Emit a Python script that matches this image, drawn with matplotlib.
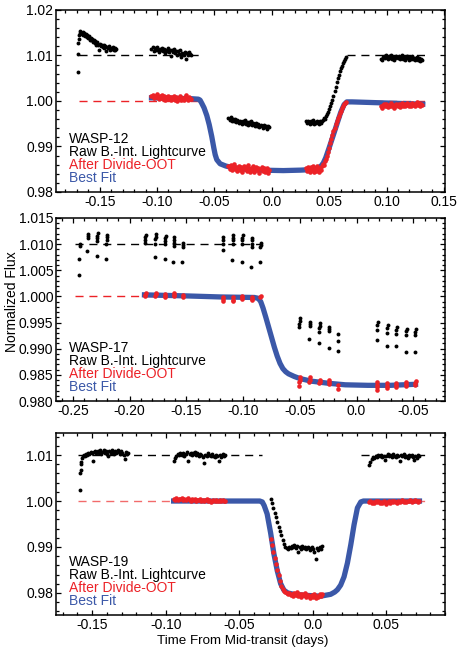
import matplotlib
matplotlib.use('Agg')
import matplotlib.pyplot as plt
from matplotlib.ticker import MultipleLocator, FixedLocator, FixedFormatter

plt.rcParams['font.family'] = ['Liberation Sans', 'DejaVu Sans']
plt.rcParams['font.size'] = 10

BLACK = '#000000'
RED = '#ec2227'
BLUE = '#3b58a8'

# ---------------- WASP-12 ----------------
p1_raw_label = 'WASP-12'

# first orbit: raw only
p1_tA = [-0.1690, -0.1688, -0.1686, -0.1683, -0.1679, -0.1674, -0.1668, -0.1662, -0.1656, -0.1649,
         -0.1642, -0.1635, -0.1628, -0.1621, -0.1614, -0.1607, -0.1600, -0.1593, -0.1586, -0.1579,
         -0.1572, -0.1565, -0.1558, -0.1551, -0.1544, -0.1537, -0.1530, -0.1522, -0.1514, -0.1506,
         -0.1498, -0.1490, -0.1482, -0.1474, -0.1466, -0.1458, -0.1450, -0.1442, -0.1434, -0.1426,
         -0.1418, -0.1410, -0.1402, -0.1394, -0.1386, -0.1378, -0.1370, -0.1362, -0.1356]
p1_rawA = [1.0064, 1.0104, 1.0128, 1.0136, 1.0145, 1.0150, 1.0153, 1.0150, 1.0148, 1.0151,
           1.0146, 1.0149, 1.0143, 1.0147, 1.0140, 1.0144, 1.0138, 1.0142, 1.0135, 1.0139,
           1.0133, 1.0137, 1.0129, 1.0134, 1.0128, 1.0131, 1.0124, 1.0129, 1.0122, 1.0112,
           1.0126, 1.0120, 1.0124, 1.0118, 1.0122, 1.0116, 1.0120, 1.0110, 1.0119, 1.0117,
           1.0121, 1.0113, 1.0117, 1.0115, 1.0118, 1.0112, 1.0116, 1.0113, 1.0114]

p1_tB = [-0.1048, -0.1039, -0.1030, -0.1021, -0.1012, -0.1003, -0.0994, -0.0985, -0.0976, -0.0967,
         -0.0958, -0.0949, -0.0940, -0.0931, -0.0922, -0.0913, -0.0904, -0.0895, -0.0886, -0.0877,
         -0.0868, -0.0859, -0.0850, -0.0841, -0.0832, -0.0823, -0.0814, -0.0805, -0.0796, -0.0787,
         -0.0778, -0.0769, -0.0760, -0.0751, -0.0742, -0.0733, -0.0724, -0.0715, -0.0706]
p1_rawB = [1.0114, 1.0118, 1.0110, 1.0116, 1.0112, 1.0119, 1.0113, 1.0108, 1.0115, 1.0111,
           1.0117, 1.0109, 1.0114, 1.0106, 1.0113, 1.0110, 1.0116, 1.0108, 1.0112, 1.0099,
           1.0111, 1.0107, 1.0114, 1.0105, 1.0110, 1.0102, 1.0109, 1.0104, 1.0111, 1.0096,
           1.0106, 1.0101, 1.0108, 1.0092, 1.0105, 1.0100, 1.0107, 1.0103, 1.0101]
p1_divB = [1.0010, 1.0014, 1.0006, 1.0012, 1.0008, 1.0015, 1.0009, 1.0004, 1.0011, 1.0007,
           1.0013, 1.0005, 1.0010, 1.0003, 1.0009, 1.0006, 1.0012, 1.0004, 1.0008, 1.0002,
           1.0009, 1.0005, 1.0011, 1.0003, 1.0008, 1.0001, 1.0007, 1.0004, 1.0010, 1.0002,
           1.0006, 1.0003, 1.0009, 1.0014, 1.0007, 1.0002, 1.0008, 1.0005, 1.0004]

p1_tC = [-0.0377, -0.0368, -0.0359, -0.0350, -0.0341, -0.0332, -0.0323, -0.0314, -0.0305, -0.0296,
         -0.0287, -0.0278, -0.0269, -0.0260, -0.0251, -0.0242, -0.0233, -0.0224, -0.0215, -0.0206,
         -0.0197, -0.0188, -0.0179, -0.0170, -0.0161, -0.0152, -0.0143, -0.0134, -0.0125, -0.0116,
         -0.0107, -0.0098, -0.0089, -0.0080, -0.0071, -0.0062, -0.0053, -0.0044, -0.0035, -0.0026]
p1_rawC = [0.9962, 0.9958, 0.9964, 0.9957, 0.9961, 0.9955, 0.9960, 0.9953, 0.9958, 0.9956,
           0.9951, 0.9957, 0.9954, 0.9949, 0.9955, 0.9952, 0.9958, 0.9950, 0.9954, 0.9948,
           0.9953, 0.9950, 0.9955, 0.9947, 0.9952, 0.9949, 0.9944, 0.9951, 0.9946, 0.9950,
           0.9943, 0.9948, 0.9945, 0.9940, 0.9947, 0.9943, 0.9946, 0.9939, 0.9944, 0.9942]
p1_divC = [0.9856, 0.9851, 0.9859, 0.9848, 0.9854, 0.9861, 0.9850, 0.9855, 0.9846, 0.9853,
           0.9858, 0.9849, 0.9855, 0.9844, 0.9852, 0.9857, 0.9850, 0.9854, 0.9847, 0.9860,
           0.9851, 0.9845, 0.9853, 0.9849, 0.9856, 0.9843, 0.9851, 0.9854, 0.9848, 0.9852,
           0.9841, 0.9850, 0.9855, 0.9846, 0.9852, 0.9844, 0.9849, 0.9853, 0.9842, 0.9848]

p1_tD = [0.0295, 0.0304, 0.0313, 0.0322, 0.0331, 0.0340, 0.0349, 0.0358, 0.0367, 0.0376,
         0.0385, 0.0394, 0.0403, 0.0412, 0.0421, 0.0430, 0.0439, 0.0448, 0.0457, 0.0466,
         0.0475, 0.0484, 0.0493, 0.0502, 0.0511, 0.0520, 0.0529, 0.0538, 0.0547, 0.0556,
         0.0565, 0.0574, 0.0583, 0.0592, 0.0601, 0.0610, 0.0619, 0.0628, 0.0637, 0.0646]
p1_rawD = [0.9955, 0.9951, 0.9957, 0.9953, 0.9949, 0.9956, 0.9952, 0.9958, 0.9950, 0.9954,
           0.9951, 0.9957, 0.9953, 0.9949, 0.9955, 0.9952, 0.9956, 0.9958, 0.9962, 0.9960,
           0.9967, 0.9971, 0.9976, 0.9982, 0.9989, 0.9995, 1.0003, 1.0012, 1.0021, 1.0031,
           1.0041, 1.0050, 1.0058, 1.0066, 1.0072, 1.0077, 1.0083, 1.0087, 1.0092, 1.0096]
p1_divD = [0.9852, 0.9846, 0.9855, 0.9849, 0.9843, 0.9854, 0.9848, 0.9857, 0.9845, 0.9851,
           0.9847, 0.9856, 0.9850, 0.9844, 0.9853, 0.9849, 0.9858, 0.9862, 0.9860, 0.9868,
           0.9872, 0.9880, 0.9888, 0.9897, 0.9908, 0.9916, 0.9925, 0.9933, 0.9940, 0.9949,
           0.9955, 0.9962, 0.9968, 0.9974, 0.9979, 0.9984, 0.9989, 0.9993, 0.9996, 0.9998]

p1_tE = [0.0952, 0.0961, 0.0970, 0.0979, 0.0988, 0.0997, 0.1006, 0.1015, 0.1024, 0.1033,
         0.1042, 0.1051, 0.1060, 0.1069, 0.1078, 0.1087, 0.1096, 0.1105, 0.1114, 0.1123,
         0.1132, 0.1141, 0.1150, 0.1159, 0.1168, 0.1177, 0.1186, 0.1195, 0.1204, 0.1213,
         0.1222, 0.1231, 0.1240, 0.1249, 0.1258, 0.1267, 0.1276, 0.1285, 0.1294, 0.1303, 0.1312]
p1_rawE = [1.0093, 1.0090, 1.0097, 1.0099, 1.0094, 1.0100, 1.0096, 1.0092, 1.0098, 1.0095,
           1.0101, 1.0093, 1.0097, 1.0089, 1.0095, 1.0099, 1.0094, 1.0098, 1.0092, 1.0096,
           1.0100, 1.0093, 1.0097, 1.0091, 1.0095, 1.0099, 1.0094, 1.0090, 1.0096, 1.0093,
           1.0098, 1.0092, 1.0095, 1.0089, 1.0094, 1.0097, 1.0091, 1.0095, 1.0088, 1.0093, 1.0091]
p1_divE = [0.9988, 0.9985, 0.9991, 0.9994, 0.9989, 0.9993, 0.9990, 0.9986, 0.9992, 0.9989,
           0.9995, 0.9988, 0.9991, 0.9985, 0.9990, 0.9994, 0.9989, 0.9993, 0.9987, 0.9991,
           0.9995, 0.9989, 0.9993, 0.9988, 0.9992, 0.9996, 0.9991, 0.9988, 0.9994, 0.9990,
           0.9996, 0.9991, 0.9994, 0.9989, 0.9993, 0.9997, 0.9992, 0.9995, 0.9990, 0.9994, 0.9992]

p1_fit_t = [-0.1048, -0.0700, -0.0640, -0.0625, -0.0610, -0.0590, -0.0566, -0.0545, -0.0523, -0.0505,
            -0.0493, -0.0479, -0.0450, -0.0400, -0.0333, -0.0200, -0.0099, 0.0100, 0.0251, 0.0330,
            0.0397, 0.0430, 0.0450, 0.0470, 0.0500, 0.0543, 0.0575, 0.0601, 0.0630, 0.0654,
            0.0700, 0.1316]
p1_fit_f = [1.0007, 1.0005, 1.0004, 1.0002, 0.9995, 0.9985, 0.9968, 0.9948, 0.9922, 0.9897,
            0.9882, 0.9871, 0.9862, 0.9857, 0.9853, 0.9849, 0.9848, 0.9847, 0.9848, 0.9849,
            0.9852, 0.9857, 0.9864, 0.9875, 0.9897, 0.9930, 0.9955, 0.9975, 0.9992, 0.9998,
            0.9998, 0.9993]

p1_raw_dash = [(-0.168, -0.0625), (0.0654, 0.136)]
p1_div_dash = [(-0.168, -0.0625), (0.0654, 0.136)]

# ---------------- WASP-17 ----------------
p2_raw_t = [-0.2440, -0.2442, -0.2444, -0.2446,
            -0.2366, -0.2368, -0.2371, -0.2374,
            -0.2283, -0.2285, -0.2287, -0.2289, -0.2292,
            -0.2199, -0.2201, -0.2203, -0.2205, -0.2207,
            -0.1860, -0.1862, -0.1864, -0.1866,
            -0.1769, -0.1771, -0.1773, -0.1775, -0.1777,
            -0.1684, -0.1686, -0.1688, -0.1690, -0.1692,
            -0.1608, -0.1610, -0.1612, -0.1614, -0.1616,
            -0.1530, -0.1532, -0.1534, -0.1536,
            -0.1175, -0.1177, -0.1179, -0.1181,
            -0.1087, -0.1089, -0.1091, -0.1093, -0.1095,
            -0.1005, -0.1007, -0.1009, -0.1011, -0.1013,
            -0.0920, -0.0922, -0.0924, -0.0926, -0.0928,
            -0.0845, -0.0847, -0.0849, -0.0851,
            -0.0500, -0.0502, -0.0504, -0.0506,
            -0.0411, -0.0413, -0.0415, -0.0417,
            -0.0323, -0.0325, -0.0327, -0.0329, -0.0331,
            -0.0241, -0.0243, -0.0245, -0.0247,
            -0.0162, -0.0164, -0.0166,
            0.0185, 0.0183, 0.0181, 0.0179,
            0.0273, 0.0271, 0.0269, 0.0267,
            0.0353, 0.0351, 0.0349, 0.0347,
            0.0441, 0.0439, 0.0437, 0.0435,
            0.0521, 0.0519, 0.0517, 0.0515]
p2_raw_f = [1.0100, 1.0096, 1.0071, 1.0041,
            1.0120, 1.0116, 1.0111, 1.0087,
            1.0121, 1.0116, 1.0111, 1.0106, 1.0077,
            1.0118, 1.0113, 1.0108, 1.0100, 1.0072,
            1.0118, 1.0113, 1.0108, 1.0103,
            1.0119, 1.0114, 1.0109, 1.0101, 1.0076,
            1.0116, 1.0111, 1.0106, 1.0100, 1.0071,
            1.0113, 1.0108, 1.0103, 1.0097, 1.0066,
            1.0103, 1.0099, 1.0094, 1.0065,
            1.0113, 1.0108, 1.0100, 1.0089,
            1.0117, 1.0112, 1.0107, 1.0101, 1.0069,
            1.0117, 1.0112, 1.0107, 1.0100, 1.0066,
            1.0112, 1.0107, 1.0101, 1.0095, 1.0056,
            1.0103, 1.0099, 1.0095, 1.0065,
            0.9958, 0.9953, 0.9947, 0.9941,
            0.9952, 0.9948, 0.9943, 0.9919,
            0.9949, 0.9944, 0.9939, 0.9932, 0.9910,
            0.9942, 0.9938, 0.9933, 0.9901,
            0.9929, 0.9915, 0.9896,
            0.9952, 0.9945, 0.9936, 0.9917,
            0.9946, 0.9939, 0.9930, 0.9905,
            0.9942, 0.9936, 0.9928, 0.9905,
            0.9938, 0.9933, 0.9927, 0.9894,
            0.9937, 0.9932, 0.9927, 0.9893]

p2_div_t = [-0.1861, -0.1863, -0.1865,
            -0.1770, -0.1772, -0.1774,
            -0.1685, -0.1687, -0.1689,
            -0.1609, -0.1611, -0.1613,
            -0.1531, -0.1533,
            -0.1176, -0.1178, -0.1180,
            -0.1088, -0.1090, -0.1092,
            -0.1006, -0.1008, -0.1010,
            -0.0921, -0.0923, -0.0925,
            -0.0846, -0.0848,
            -0.0501, -0.0503, -0.0505, -0.0507,
            -0.0412, -0.0414, -0.0416,
            -0.0324, -0.0326, -0.0328,
            -0.0242, -0.0244, -0.0246,
            -0.0163, -0.0165,
            0.0184, 0.0182, 0.0180, 0.0178,
            0.0272, 0.0270, 0.0268,
            0.0352, 0.0350, 0.0348,
            0.0440, 0.0438, 0.0436,
            0.0520, 0.0518, 0.0516]
p2_div_f = [1.0006, 1.0003, 1.0000,
            1.0007, 1.0004, 1.0001,
            1.0004, 1.0001, 0.9998,
            1.0006, 1.0003, 1.0000,
            1.0002, 0.9999,
            0.9999, 0.9995, 0.9992,
            0.9998, 0.9994, 0.9991,
            1.0001, 0.9998, 0.9995,
            0.9998, 0.9995, 0.9993,
            1.0001, 0.9999,
            0.9846, 0.9841, 0.9836, 0.9828,
            0.9846, 0.9841, 0.9836,
            0.9841, 0.9837, 0.9834,
            0.9841, 0.9837, 0.9832,
            0.9831, 0.9823,
            0.9836, 0.9831, 0.9826, 0.9822,
            0.9834, 0.9829, 0.9825,
            0.9834, 0.9830, 0.9827,
            0.9836, 0.9832, 0.9829,
            0.9839, 0.9834, 0.9831]

p2_fit_t = [-0.1870, -0.1500, -0.1200, -0.0900, -0.0865, -0.0845, -0.0825, -0.0800, -0.0775, -0.0750,
            -0.0725, -0.0700, -0.0675, -0.0650, -0.0625, -0.0600, -0.0550, -0.0500, -0.0400, -0.0250,
            -0.0100, 0.0100, 0.0300, 0.0520]
p2_fit_f = [1.0003, 1.0001, 0.9999, 0.9998, 0.9996, 0.9990, 0.9978, 0.9960, 0.9941, 0.9922,
            0.9903, 0.9886, 0.9872, 0.9862, 0.9856, 0.9852, 0.9847, 0.9843, 0.9838, 0.9834,
            0.9831, 0.9830, 0.9830, 0.9832]

p2_raw_dash = [(-0.2487, -0.0836)]
p2_div_dash = [(-0.2487, -0.0836)]

# ---------------- WASP-19 ----------------
p3_tA = [-0.1583, -0.1581, -0.1579, -0.1576, -0.1573, -0.1569, -0.1564, -0.1558,
         -0.1551, -0.1543, -0.1535, -0.1527, -0.1519, -0.1511, -0.1503, -0.1495, -0.1487, -0.1479,
         -0.1471, -0.1463, -0.1455, -0.1447, -0.1439, -0.1431, -0.1423, -0.1415, -0.1407, -0.1399,
         -0.1391, -0.1383, -0.1375, -0.1367, -0.1359, -0.1351, -0.1343, -0.1335, -0.1327, -0.1319,
         -0.1311, -0.1303, -0.1295, -0.1287, -0.1279, -0.1271, -0.1263, -0.1255]
p3_rawA = [1.0023, 1.0060, 1.0067, 1.0081, 1.0086, 1.0093, 1.0098, 1.0101,
           1.0099, 1.0103, 1.0100, 1.0105, 1.0102, 1.0107, 1.0104, 1.0088, 1.0106, 1.0109,
           1.0104, 1.0108, 1.0105, 1.0110, 1.0103, 1.0107, 1.0111, 1.0105, 1.0109, 1.0103,
           1.0097, 1.0108, 1.0104, 1.0110, 1.0106, 1.0102, 1.0109, 1.0105, 1.0111, 1.0106,
           1.0103, 1.0108, 1.0104, 1.0100, 1.0091, 1.0106, 1.0102, 1.0105]

p3_tB = [-0.0946, -0.0937, -0.0928, -0.0919, -0.0910, -0.0901, -0.0892, -0.0883, -0.0874, -0.0865,
         -0.0856, -0.0847, -0.0838, -0.0829, -0.0820, -0.0811, -0.0802, -0.0793, -0.0784, -0.0775,
         -0.0766, -0.0757, -0.0748, -0.0739, -0.0730, -0.0721, -0.0712, -0.0703, -0.0694, -0.0685,
         -0.0676, -0.0667, -0.0658, -0.0649, -0.0640, -0.0631, -0.0622, -0.0613, -0.0604, -0.0595]
p3_rawB = [1.0088, 1.0094, 1.0099, 1.0103, 1.0100, 1.0105, 1.0101, 1.0104, 1.0099, 1.0103,
           1.0106, 1.0088, 1.0102, 1.0105, 1.0100, 1.0104, 1.0107, 1.0101, 1.0105, 1.0099,
           1.0103, 1.0100, 1.0096, 1.0083, 1.0101, 1.0098, 1.0104, 1.0100, 1.0097, 1.0102,
           1.0099, 1.0095, 1.0101, 1.0097, 1.0087, 1.0100, 1.0096, 1.0102, 1.0098, 1.0101]
p3_divB = [1.0005, 1.0003, 1.0006, 1.0002, 1.0005, 1.0004, 1.0007, 1.0003, 1.0005, 1.0002,
           1.0004, 1.0006, 1.0003, 1.0001, 1.0005, 1.0003, 1.0004, 1.0001, 1.0003, 1.0002,
           1.0005, 1.0001, 1.0003, 0.9999, 1.0002, 1.0004, 1.0000, 1.0002, 0.9998, 1.0001,
           1.0003, 1.0000, 1.0002, 0.9999, 1.0001, 1.0003, 1.0000, 1.0002, 0.9999, 1.0001]

p3_tC = [-0.0286, -0.0277, -0.0268, -0.0259, -0.0250, -0.0241, -0.0232, -0.0223, -0.0214, -0.0205,
         -0.0196, -0.0187, -0.0178, -0.0169, -0.0160, -0.0151, -0.0142, -0.0133, -0.0124, -0.0115,
         -0.0106, -0.0097, -0.0088, -0.0079, -0.0070, -0.0061, -0.0052, -0.0043, -0.0034, -0.0025,
         -0.0016, -0.0007, 0.0002, 0.0011, 0.0020, 0.0029, 0.0038, 0.0047, 0.0056, 0.0065]
p3_rawC = [1.0005, 0.9996, 0.9985, 0.9975, 0.9966, 0.9954, 0.9944, 0.9934, 0.9925, 0.9915,
           0.9907, 0.9901, 0.9898, 0.9895, 0.9901, 0.9897, 0.9903, 0.9899, 0.9904, 0.9898,
           0.9902, 0.9888, 0.9900, 0.9896, 0.9903, 0.9898, 0.9901, 0.9895, 0.9900, 0.9897,
           0.9893, 0.9899, 0.9896, 0.9890, 0.9874, 0.9898, 0.9894, 0.9900, 0.9896, 0.9902]
p3_divC = [0.9918, 0.9904, 0.9890, 0.9876, 0.9862, 0.9850, 0.9838, 0.9826, 0.9816, 0.9809,
           0.9804, 0.9801, 0.9799, 0.9797, 0.9800, 0.9795, 0.9798, 0.9793, 0.9799, 0.9796,
           0.9801, 0.9794, 0.9797, 0.9792, 0.9798, 0.9795, 0.9799, 0.9791, 0.9796, 0.9793,
           0.9788, 0.9795, 0.9792, 0.9797, 0.9790, 0.9794, 0.9791, 0.9797, 0.9793, 0.9798]

p3_tD = [0.0384, 0.0393, 0.0402, 0.0411, 0.0420, 0.0429, 0.0438, 0.0447, 0.0456, 0.0465,
         0.0474, 0.0483, 0.0492, 0.0501, 0.0510, 0.0519, 0.0528, 0.0537, 0.0546, 0.0555,
         0.0564, 0.0573, 0.0582, 0.0591, 0.0600, 0.0609, 0.0618, 0.0627, 0.0636, 0.0645,
         0.0654, 0.0663, 0.0672, 0.0681, 0.0690, 0.0699, 0.0708, 0.0717, 0.0726]
p3_rawD = [1.0078, 1.0084, 1.0091, 1.0095, 1.0093, 1.0098, 1.0096, 1.0100, 1.0097, 1.0101,
           1.0095, 1.0099, 1.0089, 1.0098, 1.0102, 1.0097, 1.0100, 1.0096, 1.0103, 1.0099,
           1.0095, 1.0101, 1.0098, 1.0088, 1.0100, 1.0097, 1.0102, 1.0096, 1.0099, 1.0094,
           1.0101, 1.0097, 1.0100, 1.0095, 1.0090, 1.0098, 1.0094, 1.0100, 1.0097]
p3_divD = [0.9997, 0.9999, 0.9996, 0.9998, 0.9995, 0.9999, 0.9997, 1.0000, 0.9996, 0.9998,
           0.9995, 0.9999, 0.9997, 0.9994, 0.9998, 1.0000, 0.9996, 0.9999, 0.9997, 1.0001,
           0.9998, 0.9996, 1.0000, 0.9997, 0.9999, 1.0002, 0.9998, 1.0000, 0.9997, 1.0001,
           0.9999, 1.0002, 0.9998, 1.0001, 0.9999, 1.0003, 1.0000, 0.9998, 1.0001]

p3_fit_t = [-0.0946, -0.0500, -0.0360, -0.0343, -0.0330, -0.0310, -0.0286, -0.0264, -0.0241, -0.0218,
            -0.0196, -0.0170, -0.0130, -0.0060, 0.0054, 0.0122, 0.0150, 0.0168, 0.0190, 0.0213,
            0.0236, 0.0259, 0.0281, 0.0304, 0.0327, 0.0345, 0.0500, 0.0726]
p3_fit_f = [1.0000, 1.0000, 1.0000, 0.9998, 0.9990, 0.9972, 0.9930, 0.9885, 0.9848, 0.9820,
            0.9806, 0.9800, 0.9797, 0.9795, 0.9793, 0.9797, 0.9802, 0.9807, 0.9817, 0.9835,
            0.9865, 0.9905, 0.9948, 0.9985, 0.9998, 1.0000, 1.0000, 1.0000]

p3_raw_dash = [(-0.1596, -0.0343), (0.0327, 0.0782)]
p3_div_dash = [(-0.1596, -0.0343), (0.0327, 0.0782)]

# tick labels (as printed on the original)
p1_xticks = [-0.15, -0.10, -0.05, 0.0, 0.05, 0.10, 0.15]
p1_xlabels = ['-0.15', '-0.10', '-0.05', '0.0', '0.05', '0.10', '0.15']
p1_yticks = [0.98, 0.99, 1.00, 1.01, 1.02]
p1_ylabels = ['0.98', '0.99', '1.00', '1.01', '1.02']
p2_xticks = [-0.25, -0.20, -0.15, -0.10, -0.05, 0.0, 0.05]
p2_xlabels = ['-0.25', '-0.20', '-0.15', '-0.10', '-0.05', '0.0', '-0.05']
p2_yticks = [0.980, 0.985, 0.990, 0.995, 1.000, 1.005, 1.010, 1.015]
p2_ylabels = ['0.980', '0.985', '0.990', '0.995', '1.000', '1.005', '1.010', '1.015']
p3_xticks = [-0.15, -0.10, -0.05, 0.0, 0.05]
p3_xlabels = ['-0.15', '-0.10', '-0.05', '0.0', '0.05']
p3_yticks = [0.98, 0.99, 1.00, 1.01]
p3_ylabels = ['0.98', '0.99', '1.00', '1.01']


def style_axes(ax, xlim, ylim, xticks, xlabels, yticks, ylabels, xminor, yminor):
    ax.set_xlim(*xlim)
    ax.set_ylim(*ylim)
    ax.xaxis.set_major_locator(FixedLocator(xticks))
    ax.xaxis.set_major_formatter(FixedFormatter(xlabels))
    ax.yaxis.set_major_locator(FixedLocator(yticks))
    ax.yaxis.set_major_formatter(FixedFormatter(ylabels))
    ax.xaxis.set_minor_locator(MultipleLocator(xminor))
    ax.yaxis.set_minor_locator(MultipleLocator(yminor))
    ax.tick_params(which='both', direction='in', top=True, right=True, width=0.9,
                   labelsize=10, pad=2.0)
    ax.tick_params(which='major', length=3.8)
    ax.tick_params(which='minor', length=2.0)
    for s in ax.spines.values():
        s.set_linewidth(1.1)


def add_key(ax, name):
    rows = [name, 'Raw B.-Int. Lightcurve', 'After Divide-OOT', 'Best Fit']
    cols = [BLACK, BLACK, RED, BLUE]
    ys = [0.292, 0.220, 0.147, 0.075]
    for y, s, c in zip(ys, rows, cols):
        ax.text(0.033, y, s, color=c, transform=ax.transAxes, ha='left', va='center', fontsize=10)


def dashes(ax, spans, level, color):
    for x0, x1 in spans:
        ax.plot([x0, x1], [level, level], color=color, lw=1.0, dashes=(5.8, 4.2), zorder=1)


def dots(ax, t, f, color, ms):
    ax.plot(t, f, 'o', color=color, ms=ms, mec='none', ls='none', zorder=3 if color == BLACK else 4)


fig = plt.figure(figsize=(4.63, 6.49), dpi=100)
ax1 = fig.add_axes([0.1210, 0.7042, 0.8402, 0.2804])
ax2 = fig.add_axes([0.1210, 0.3821, 0.8402, 0.2820])
ax3 = fig.add_axes([0.1210, 0.0524, 0.8402, 0.2804])

BMS = 2.8
RMS = 3.3

# panel 1
dashes(ax1, p1_raw_dash, 1.01, BLACK)
dashes(ax1, p1_div_dash, 1.00, RED)
ax1.plot(p1_fit_t, p1_fit_f, color=BLUE, lw=3.8, zorder=2, solid_joinstyle='round')
for t, f in [(p1_tA, p1_rawA), (p1_tB, p1_rawB), (p1_tC, p1_rawC), (p1_tD, p1_rawD), (p1_tE, p1_rawE)]:
    dots(ax1, t, f, BLACK, BMS)
for t, f in [(p1_tB, p1_divB), (p1_tC, p1_divC), (p1_tD, p1_divD), (p1_tE, p1_divE)]:
    dots(ax1, t, f, RED, RMS)
style_axes(ax1, (-0.188, 0.151), (0.98, 1.02), p1_xticks, p1_xlabels, p1_yticks, p1_ylabels, 0.01, 0.002)
add_key(ax1, p1_raw_label)

# panel 2
dashes(ax2, p2_raw_dash, 1.010, BLACK)
dashes(ax2, p2_div_dash, 1.000, RED)
ax2.plot(p2_fit_t, p2_fit_f, color=BLUE, lw=3.8, zorder=2, solid_joinstyle='round')
dots(ax2, p2_raw_t, p2_raw_f, BLACK, BMS)
dots(ax2, p2_div_t, p2_div_f, RED, RMS)
style_axes(ax2, (-0.265, 0.078), (0.980, 1.015), p2_xticks, p2_xlabels, p2_yticks, p2_ylabels, 0.01, 0.001)
add_key(ax2, 'WASP-17')

# panel 3
dashes(ax3, p3_raw_dash, 1.01, BLACK)
dashes(ax3, p3_div_dash, 1.00, '#f26b6b')
ax3.plot(p3_fit_t, p3_fit_f, color=BLUE, lw=3.8, zorder=2, solid_joinstyle='round')
for t, f in [(p3_tA, p3_rawA), (p3_tB, p3_rawB), (p3_tC, p3_rawC), (p3_tD, p3_rawD)]:
    dots(ax3, t, f, BLACK, BMS)
for t, f in [(p3_tB, p3_divB), (p3_tC, p3_divC), (p3_tD, p3_divD)]:
    dots(ax3, t, f, RED, RMS)
style_axes(ax3, (-0.1746, 0.090), (0.9752, 1.0148), p3_xticks, p3_xlabels, p3_yticks, p3_ylabels, 0.01, 0.002)
add_key(ax3, 'WASP-19')

fig.text(0.026, 0.535, 'Normalized Flux', rotation=90, ha='center', va='center', fontsize=10)
fig.text(0.524, 0.013, 'Time From Mid-transit (days)', ha='center', va='center', fontsize=9.6)

fig.savefig('out.png', dpi=100)
